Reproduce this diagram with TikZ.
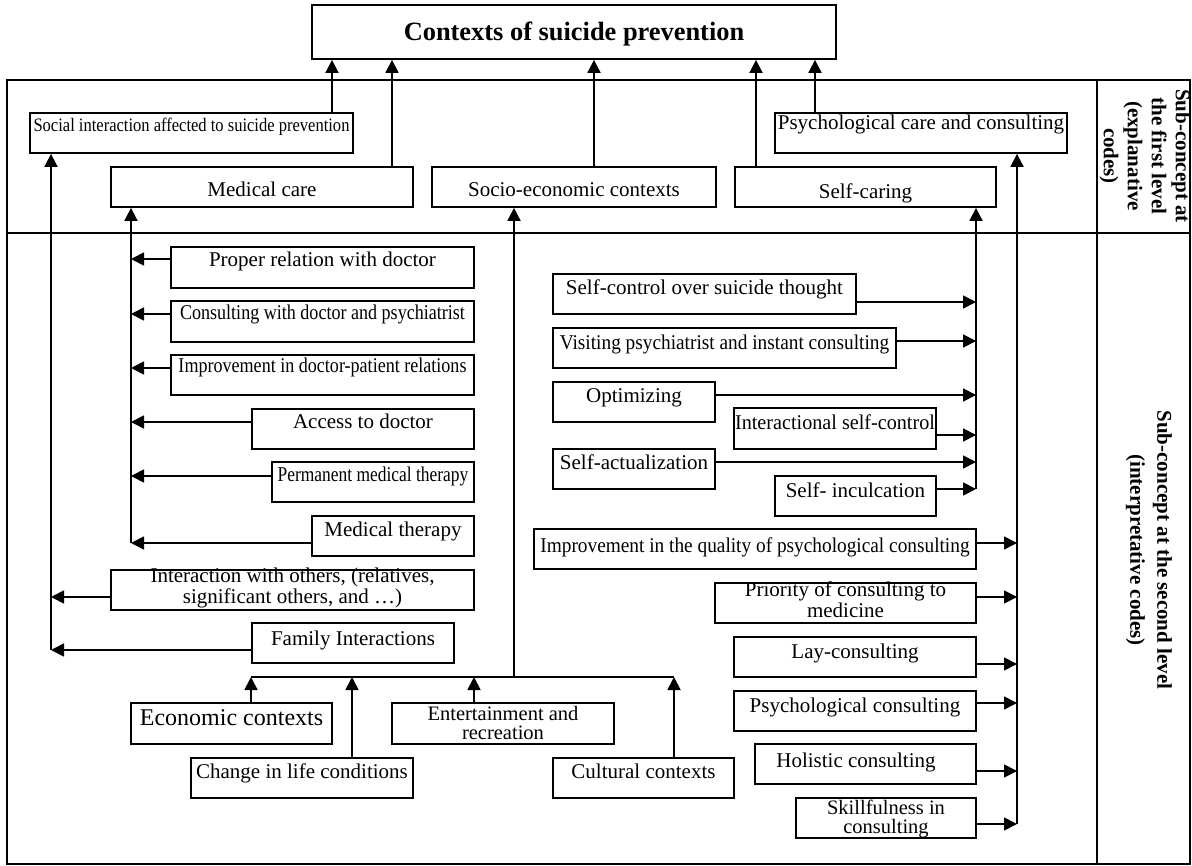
\documentclass[tikz,border=0pt]{standalone}
\usepackage{fontspec}
\setmainfont{Liberation Serif}
\usetikzlibrary{arrows.meta}
\tikzset{
  box/.style={draw, line width=1.8pt, rectangle, inner sep=0pt},
  arr/.style={line width=1.8pt, -{Triangle[width=13pt,length=13pt]}},
  ln/.style={line width=1.8pt},
  txt/.style={anchor=base, inner sep=0pt, font=\fontsize{21}{18}\selectfont},
  txtt/.style={anchor=base, inner sep=0pt, align=center, font=\fontsize{21}{18}\selectfont},
  rlab/.style={inner sep=0pt, rotate=-90, align=center, font=\bfseries\fontsize{21}{24}\selectfont},
}
\newcommand\bx[5]{\node[box, minimum width=#4pt-#2pt, minimum height=#5pt-#3pt] (#1) at ({(#2+#4)/2},{(#3+#5)/2}) {};}
\newcommand\sx[2]{\scalebox{#1}[1]{#2}}
\begin{document}
\begin{tikzpicture}[x=1pt,y=-1pt]
\useasboundingbox (0,0) rectangle (1192,866);
% frames
\node[box, minimum width=1183pt, minimum height=784pt] (frame) at (598.5,472) {};
\coordinate (hl) at (7,233);
\coordinate (vt) at (1097,80);
\draw[ln] (hl) -- (hl -| frame.east);
\draw[ln] (vt) -- (vt |- frame.south);
\node[rlab] (lab1) at (1145,156) {Sub-concept at\\the first level\\(explanative\\codes)};
\node[rlab, font=\bfseries\fontsize{21}{27}\selectfont] (lab2) at (1149,550) {Sub-concept at the second level\\(interpretative codes)};

% boxes
\bx{title}{312}{5}{836}{59}
\bx{social}{30}{113}{353}{153}
\bx{medcare}{111}{167}{413}{207}
\bx{socio}{432}{167}{716}{207}
\bx{selfcare}{735}{167}{996}{207}
\bx{psycare}{775}{113}{1067}{153}
\bx{proper}{171}{247}{474}{288}
\bx{consult}{171}{301}{474}{342}
\bx{improve}{171}{355}{474}{395}
\bx{access}{252}{409}{474}{449}
\bx{perm}{272}{462}{474}{502}
\bx{medther}{312}{516}{474}{556}
\bx{interact}{111}{570}{474}{610}
\bx{family}{252}{623}{454}{663}
\bx{econ}{131}{703}{332}{744}
\bx{change}{191}{758}{413}{798}
\bx{entert}{392}{703}{614}{744}
\bx{cultural}{553}{758}{734}{798}
\bx{selfctrl}{553}{274}{856}{314}
\bx{visit}{553}{328}{896}{368}
\bx{optim}{553}{382}{715}{422}
\bx{interself}{734}{408}{936}{449}
\bx{actual}{553}{449}{715}{489}
\bx{incul}{775}{476}{936}{516}
\bx{quality}{534}{529}{976}{569}
\bx{priority}{715}{583}{976}{623}
\bx{lay}{734}{637}{976}{677}
\bx{psycons}{734}{691}{976}{731}
\bx{holistic}{755}{744}{976}{784}
\bx{skill}{796}{798}{976}{838}

% texts
\node[txt, font=\bfseries\fontsize{26.4}{28}\selectfont] (t-title) at (574,41) {Contexts of suicide prevention};
\node[txt, font=\fontsize{19}{18}\selectfont] (t-social) at (191.5,132) {\sx{0.87}{Social interaction affected to suicide prevention}};
\node[txt] (t-medcare) at (262,197) {Medical care};
\node[txt] (t-socio) at (574,197) {Socio-economic contexts};
\begin{scope}
\clip (735,167) rectangle (996,203);
\node[txt] (t-selfcare) at (865.5,199) {Self-caring};
\end{scope}
\node[txt] (t-psycare) at (921,130) {Psychological care and consulting};
\node[txt] (t-proper) at (322.5,267) {Proper relation with doctor};
\node[txt] (t-consult) at (322.5,320) {\sx{0.86}{Consulting with doctor and psychiatrist}};
\node[txt] (t-improve) at (322.5,373) {\sx{0.86}{Improvement in doctor-patient relations}};
\node[txt] (t-access) at (363,429) {Access to doctor};
\node[txt] (t-perm) at (373,482) {\sx{0.83}{Permanent medical therapy}};
\node[txt] (t-medther) at (393,536) {Medical therapy};
\node[txtt] (t-interact) at (292.5,603) {Interaction with others, (relatives,\\significant others, and …)};
\node[txt] (t-family) at (353,645) {Family Interactions};
\node[txt, font=\fontsize{24}{24}\selectfont] (t-econ) at (231.5,725) {Economic contexts};
\node[txt] (t-change) at (302,778) {Change in life conditions};
\node[txtt, font=\fontsize{20.5}{19}\selectfont] (t-entert) at (503,739) {Entertainment and\\recreation};
\node[txt] (t-cultural) at (643.5,778) {Cultural contexts};
\node[txt] (t-selfctrl) at (704.5,295) {Self-control over suicide thought};
\node[txt] (t-visit) at (724.5,350) {\sx{0.92}{Visiting psychiatrist and instant consulting}};
\node[txt] (t-optim) at (634,403) {Optimizing};
\node[txt] (t-interself) at (835,430) {\sx{0.96}{Interactional self-control}};
\node[txt] (t-actual) at (634,470) {Self-actualization};
\node[txt] (t-incul) at (855.5,497) {Self- inculcation};
\node[txt] (t-quality) at (755,552) {\sx{0.92}{Improvement in the quality of psychological consulting}};
\node[txtt] (t-priority) at (845.5,617) {Priority of consulting to\\medicine};
\node[txt] (t-lay) at (855,658) {Lay-consulting};
\node[txt] (t-psycons) at (855,712) {Psychological consulting};
\node[txt] (t-holistic) at (856,767) {Holistic consulting};
\node[txtt, font=\fontsize{20.5}{19}\selectfont] (t-skill) at (886,833) {Skillfulness in\\consulting};

% arrows to title
\draw[arr] (332,0 |- social.north) -- (332,0 |- title.south);
\draw[arr] (392,0 |- medcare.north) -- (392,0 |- title.south);
\draw[arr] (594,0 |- socio.north) -- (594,0 |- title.south);
\draw[arr] (756,0 |- selfcare.north) -- (756,0 |- title.south);
\draw[arr] (815,0 |- psycare.north) -- (815,0 |- title.south);

% trunks
\coordinate (trL) at (51,650);
\coordinate (trM) at (131,543);
\coordinate (trS) at (514,677);
\coordinate (trC) at (976,489);
\coordinate (trP) at (1017,824);
\coordinate (bus) at (251,677);
\draw[arr] (trL) -- (trL |- social.south);
\draw[arr] (trM) -- (trM |- medcare.south);
\draw[arr] (trS) -- (trS |- socio.south);
\draw[arr] (trC) -- (trC |- selfcare.south);
\draw[arr] (trP) -- (trP |- psycare.south);
\draw[ln] (bus) -- (674,677);

% medical care children
\draw[arr] (proper.west |- 0,259) -- (trM |- 0,259);
\draw[arr] (consult.west |- 0,314) -- (trM |- 0,314);
\draw[arr] (improve.west |- 0,368) -- (trM |- 0,368);
\draw[arr] (access.west |- 0,422) -- (trM |- 0,422);
\draw[arr] (perm.west |- 0,476) -- (trM |- 0,476);
\draw[arr] (medther.west |- 0,543) -- (trM |- 0,543);
% social children
\draw[arr] (interact.west |- 0,597) -- (trL |- 0,597);
\draw[arr] (family.west |- 0,650) -- (trL |- 0,650);
% socio-economic children
\draw[arr] (251,0 |- econ.north) -- (bus);
\draw[arr] (352,0 |- change.north) -- (352,0 |- bus);
\draw[arr] (474,0 |- entert.north) -- (474,0 |- bus);
\draw[arr] (674,0 |- cultural.north) -- (674,0 |- bus);
% self-caring children
\draw[arr] (selfctrl.east |- 0,302) -- (trC |- 0,302);
\draw[arr] (visit.east |- 0,341) -- (trC |- 0,341);
\draw[arr] (optim.east |- 0,395) -- (trC |- 0,395);
\draw[arr] (interself.east |- 0,435) -- (trC |- 0,435);
\draw[arr] (actual.east |- 0,462) -- (trC |- 0,462);
\draw[arr] (incul.east |- 0,489) -- (trC |- 0,489);
% psychological children
\draw[arr] (quality.east |- 0,543) -- (trP |- 0,543);
\draw[arr] (priority.east |- 0,597) -- (trP |- 0,597);
\draw[arr] (lay.east |- 0,664) -- (trP |- 0,664);
\draw[arr] (psycons.east |- 0,703) -- (trP |- 0,703);
\draw[arr] (holistic.east |- 0,771) -- (trP |- 0,771);
\draw[arr] (skill.east |- 0,824) -- (trP |- 0,824);
\end{tikzpicture}
\end{document}
